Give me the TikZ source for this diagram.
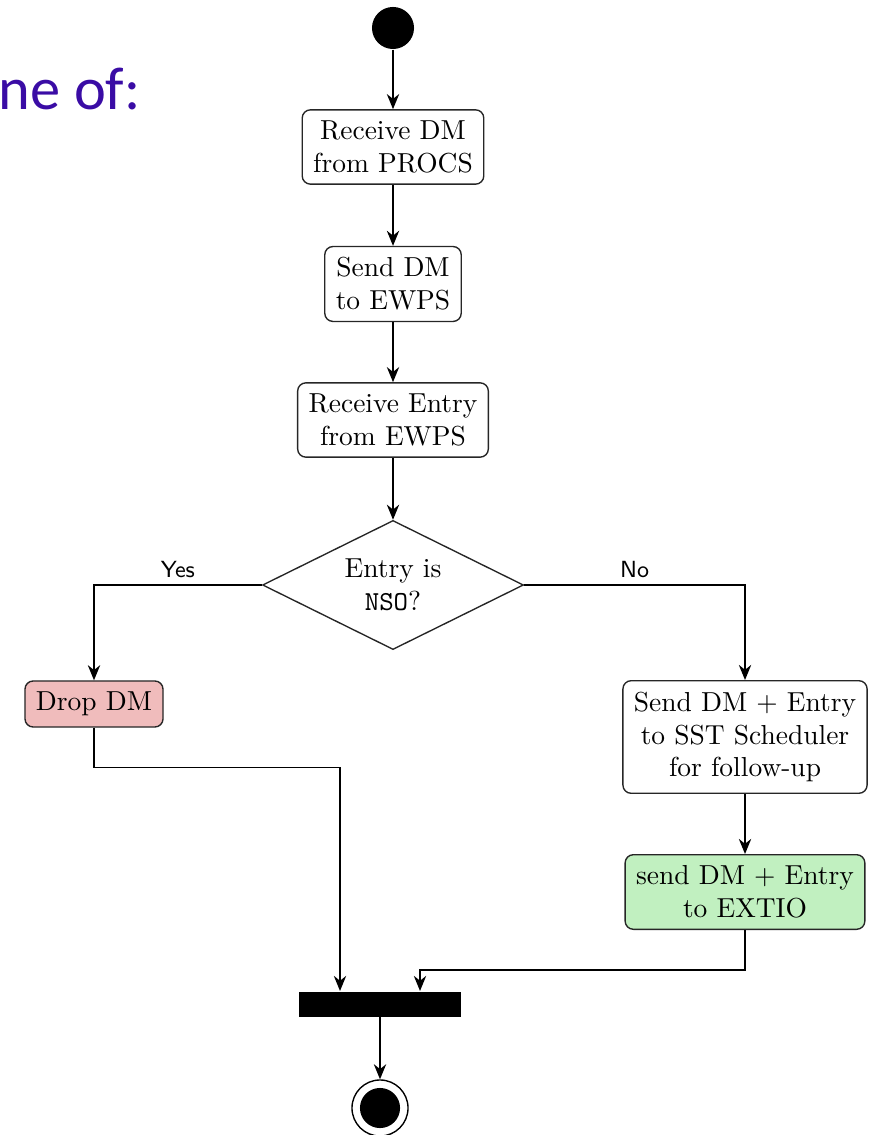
\documentclass[tikz,border=0pt]{standalone}
\usepackage{fontspec}
\newfontfamily\slidefont{Carlito}
\usetikzlibrary{shapes.geometric,arrows.meta,calc}
\definecolor{titlepurple}{RGB}{58,12,165}
\definecolor{dropfill}{RGB}{240,188,188}
\definecolor{sendfill}{RGB}{193,240,192}
\begin{document}
\begin{tikzpicture}[x=0.364pt,y=-0.364pt,
  every node/.style={font=\fontsize{10}{12}\selectfont},
  act/.style={draw=black!85, rounded corners=3pt, align=center, inner sep=4pt, line width=0.5pt},
  arr/.style={-{Stealth[length=5.5pt,width=4.5pt]}, line width=0.5pt},
  lbl/.style={font=\sffamily\fontsize{8.5}{10}\selectfont, above, inner sep=2.5pt},
]
\useasboundingbox (0,0) rectangle (879,1135);

% slide heading fragment
\node[anchor=base west, text=titlepurple, font=\slidefont\fontsize{22}{26}\selectfont, inner sep=0] (title) at (-2,110) {ne of:};

% activity nodes
\node[circle, fill=black, minimum size=15.3pt, inner sep=0] (start) at (393,28) {};
\node[act] (rcv) at (393,147) {Receive DM\\from PROCS};
\node[act] (send) at (393,284) {Send DM\\to EWPS};
\node[act] (entry) at (393,420) {Receive Entry\\from EWPS};
\node[diamond, draw=black!85, line width=0.5pt, aspect=2, inner sep=0,
      minimum width=95pt, minimum height=47pt, align=center] (dec) at (393,585) {Entry is\\\texttt{NSO}?};
\node[act, fill=dropfill] (drop) at (94,704) {Drop DM};
\node[act] (sched) at (745,737) {Send DM + Entry\\to SST Scheduler\\for follow-up};
\node[act, fill=sendfill] (extio) at (745,892) {send DM + Entry\\to EXTIO};
\node[fill=black, minimum width=59.3pt, minimum height=9.1pt, inner sep=0] (bar) at (380,1004) {};
\node[circle, draw=black, line width=0.5pt, minimum size=20.4pt, inner sep=0] (fin) at (380,1108) {};
\node[circle, fill=black, minimum size=14.6pt, inner sep=0] (finin) at (fin.center) {};

% flow
\draw[arr] (start) -- (rcv);
\draw[arr] (rcv) -- (send);
\draw[arr] (send) -- (entry);
\draw[arr] (entry) -- (dec);
\draw[arr] (dec.west) -| (drop.north) node[lbl, pos=0.25] {Yes};
\draw[arr] (dec.east) -| (sched.north) node[lbl, pos=0.25] {No};
\draw[arr] (sched) -- (extio);
\draw[arr] (drop.south) -- ++(0,40) -| ($(bar.north)+(-40,0)$);
\draw[arr] (extio.south) -- ++(0,40) -| ($(bar.north)+(40,0)$);
\draw[arr] (bar) -- (fin);
\end{tikzpicture}
\end{document}
